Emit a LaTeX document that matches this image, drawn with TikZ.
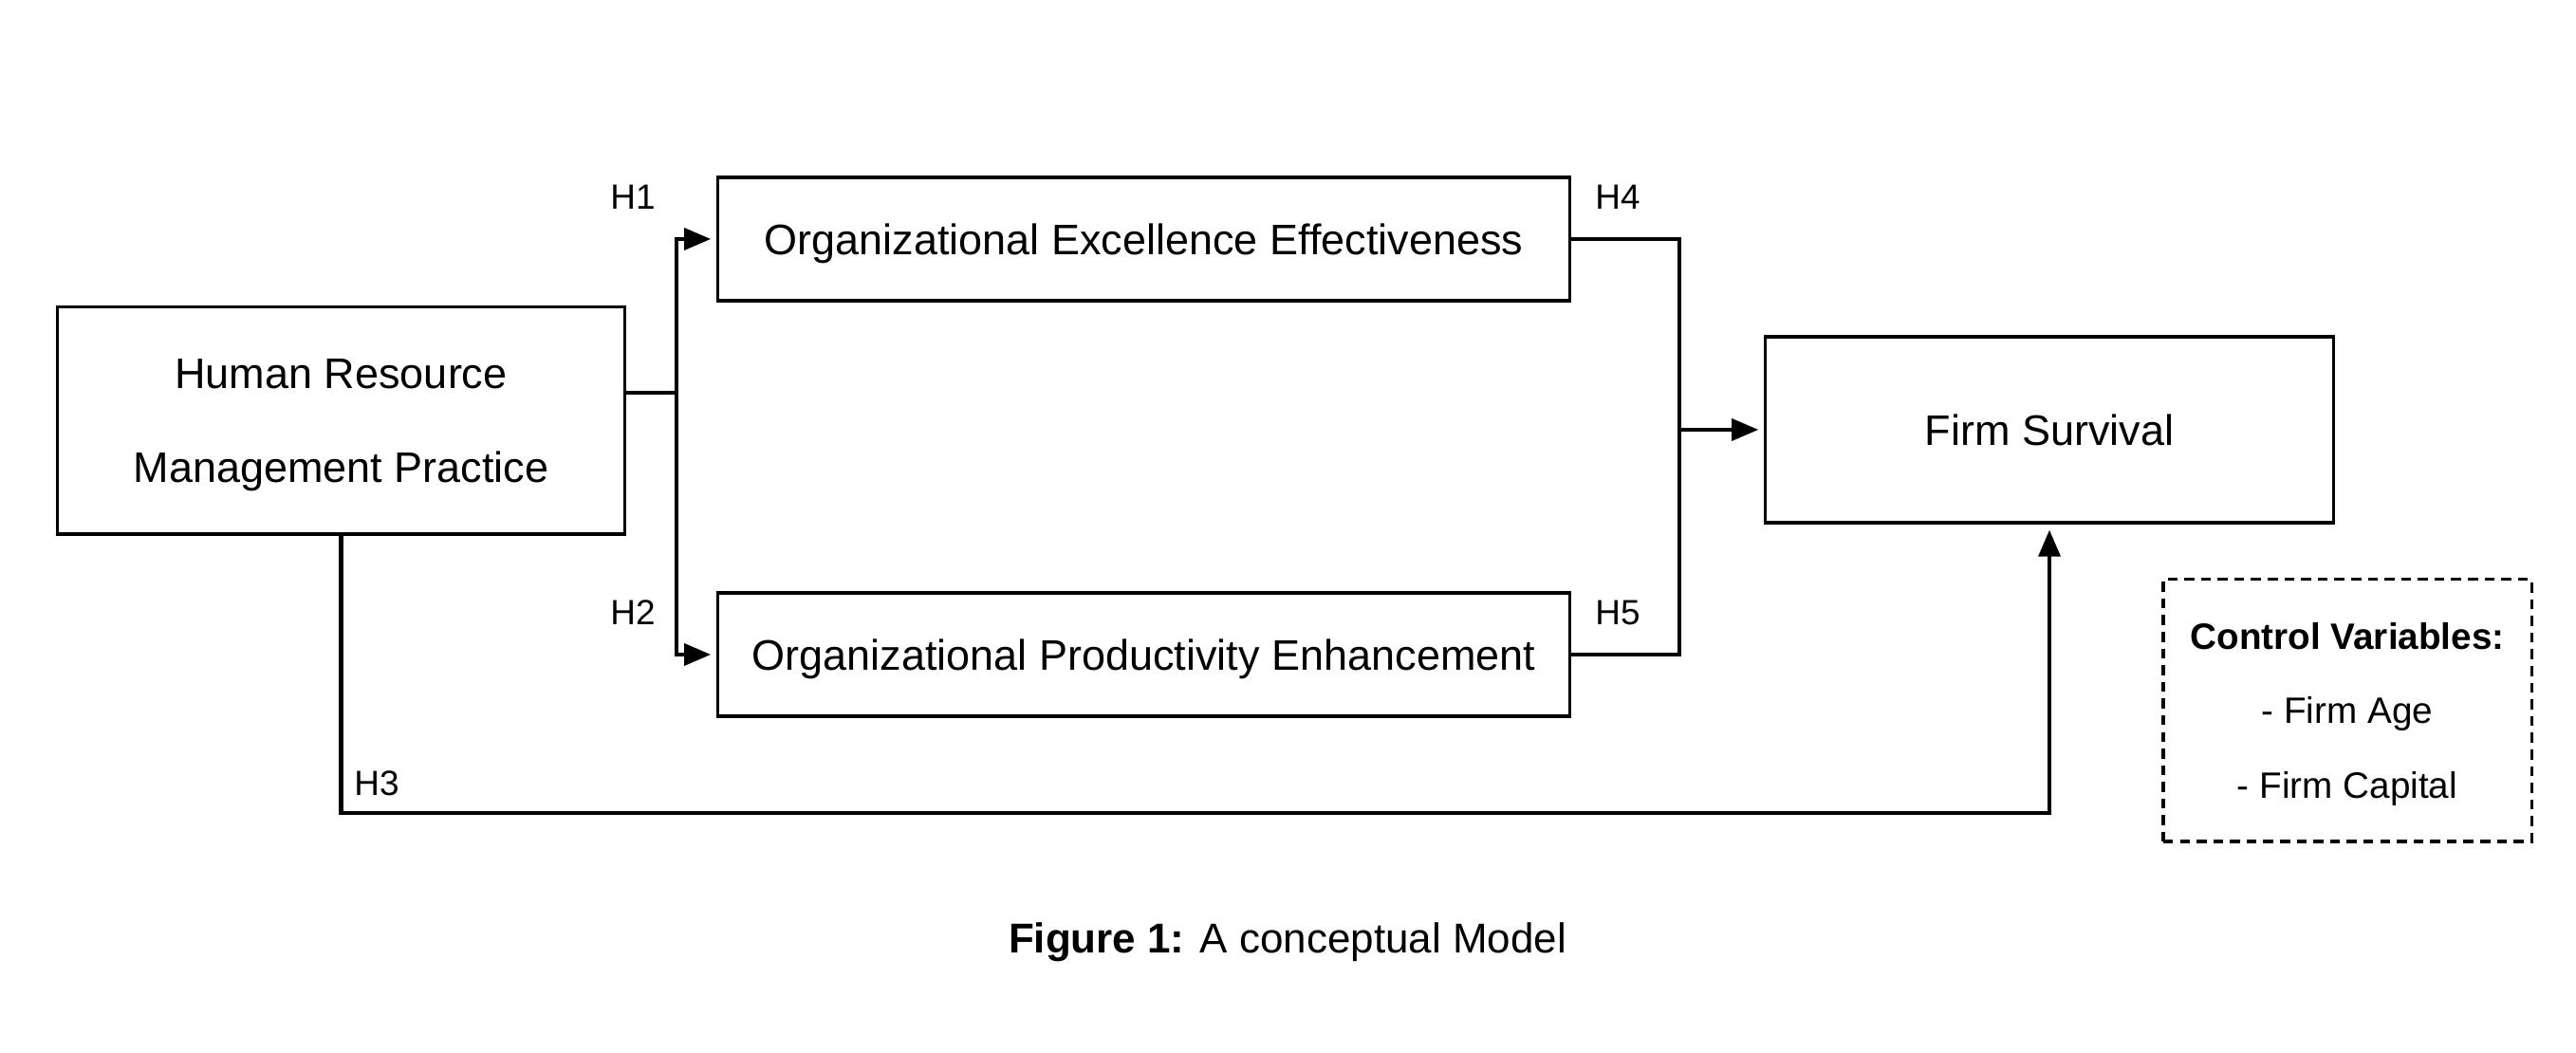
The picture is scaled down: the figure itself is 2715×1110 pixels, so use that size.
\documentclass[tikz,border=0pt]{standalone}
\usepackage{fontspec}
\setmainfont{Liberation Sans}
\usetikzlibrary{arrows.meta}
\tikzset{
  box/.style={draw, line width=0.9pt, align=center, inner sep=0pt, text depth=0pt,
    font=\fontsize{12.8}{28}\selectfont},
  hyp/.style={font=\fontsize{10.5}{12}\selectfont},
  link/.style={line width=1.15pt},
  arr/.style={link, -{Triangle[length=8pt,width=6.5pt]}, shorten >=1.7pt},
}
\begin{document}
\begin{tikzpicture}[x=0.01cm,y=0.01cm]
      \useasboundingbox (0,0) rectangle (2715,1110);
      \node[box, minimum width=5.97cm, minimum height=2.39cm] (hrm) at (359.5,666.5)
        {Human Resource\\Management Practice};
      \node[box, minimum width=8.97cm, minimum height=1.30cm] (oee) at (1205.5,858)
        {Organizational Excellence Effectiveness};
      \node[box, minimum width=8.97cm, minimum height=1.30cm] (ope) at (1205.5,420)
        {Organizational Productivity Enhancement};
      \node[box, minimum width=5.98cm, minimum height=1.96cm] (fs) at (2160,657)
        {Firm Survival};
      \node[box, dash pattern=on 3pt off 2pt, minimum width=3.88cm, minimum height=2.76cm,
        font=\fontsize{11}{22.2}\selectfont] (ctrl) at (2474,361)
        {\textbf{Control Variables:}\\- Firm Age\\- Firm Capital};
      \node[hyp] (h1) at (667,902) {H1};
      \node[hyp] (h2) at (667,464) {H2};
      \node[hyp] (h3) at (397,284) {H3};
      \node[hyp] (h4) at (1705,902) {H4};
      \node[hyp] (h5) at (1705,464) {H5};
      \node[font=\fontsize{12.5}{15}\selectfont, text depth=0pt] (cap) at (1357,121)
        {\textbf{Figure 1:} A conceptual Model};
      \coordinate (split) at (713,696);
      \coordinate (join) at (1770,657);
      \coordinate (base) at (0,253);
      \begin{scope}[link]
        \draw (hrm.east |- split) -- (split);
        \draw[arr] (split) |- (oee.west);
        \draw[arr] (split) |- (ope.west);
        \draw (oee.east) -| (join);
        \draw (ope.east) -| (join);
        \draw[arr] (join) -- (fs.west);
        \draw[arr] (hrm.south) |- (base -| fs.south) -- (fs.south);
      \end{scope}
    \end{tikzpicture}
\end{document}
